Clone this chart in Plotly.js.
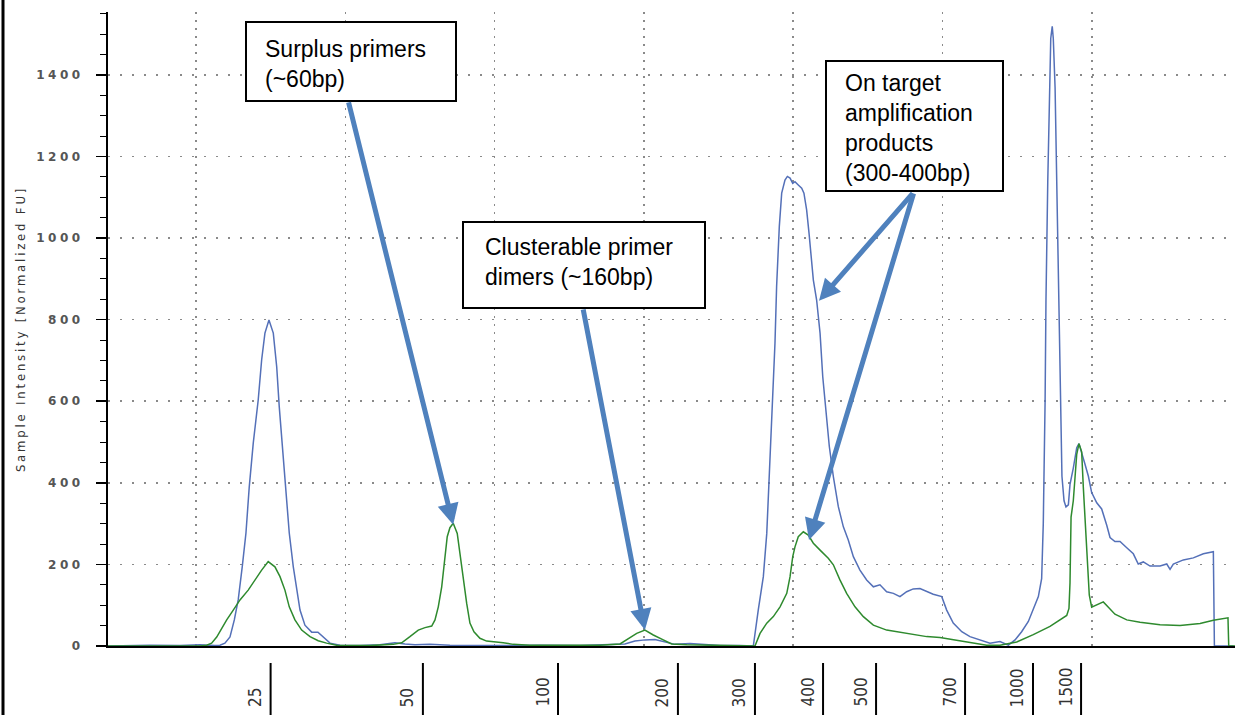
<!DOCTYPE html>
<html>
<head>
<meta charset="utf-8">
<script src="https://cdn.plot.ly/plotly-3.0.1.min.js"></script>
<style>
  html, body { margin: 0; padding: 0; background: #ffffff; }
  #chart { width: 1235px; height: 715px; }
  .ytick text { letter-spacing: 3.5px; }
  .ytitle { letter-spacing: 2.8px; }
</style>
</head>
<body>
<div id="chart"></div>
<script>
// ---- Data (migration time in s, intensity in FU) ----
const timeBlue = [34.11, 36.92, 38.93, 40.27, 41.27, 41.61, 41.94, 42.28, 42.57, 42.83,
  43.10, 43.35, 43.57, 43.84, 44.17, 44.40, 44.62, 44.89, 45.18, 45.41,
  45.58, 45.81, 46.03, 46.25, 46.52, 46.74, 46.97, 47.30, 47.75, 48.17,
  48.51, 48.98, 49.65, 50.98, 52.32, 53.33, 54.00, 54.67, 55.67, 57.01,
  60.36, 63.04, 65.72, 67.73, 68.73, 69.40, 70.07, 70.74, 71.41, 72.08,
  73.09, 74.09, 75.10, 76.44, 77.33, 77.66, 78.00, 78.23, 78.45, 78.67,
  78.78, 78.89, 79.07, 79.23, 79.45, 79.61, 79.79, 79.97, 80.12, 80.34,
  80.57, 80.72, 80.90, 81.06, 81.19, 81.35, 81.57, 81.80, 81.98, 82.20,
  82.42, 82.69, 83.02, 83.36, 83.69, 84.03, 84.47, 84.92, 85.37, 85.81,
  86.26, 86.71, 87.15, 87.60, 88.04, 88.49, 88.94, 89.38, 89.95, 90.28,
  90.72, 91.29, 91.84, 92.51, 93.18, 93.85, 94.41, 94.86, 95.30, 95.75,
  96.08, 96.42, 96.64, 96.75, 96.87, 96.93, 97.05, 97.15, 97.25, 97.35,
  97.42, 97.54, 97.65, 97.76, 97.82, 97.92, 98.00, 98.14, 98.27, 98.43,
  98.54, 98.76, 98.99, 99.14, 99.32, 99.54, 99.77, 99.99, 100.33, 100.66,
  101.00, 101.22, 101.55, 101.89, 102.34, 102.78, 103.11, 103.45, 103.90, 104.57,
  105.02, 105.24, 105.46, 106.13, 106.80, 107.47, 108.14, 108.21, 109.50];
const blueFU = [0, 2, 1, 3, 1, 2, 7, 22, 64, 113,
  194, 277, 390, 498, 603, 701, 767, 799, 767, 684,
  586, 481, 375, 277, 194, 137, 88, 51, 34, 34,
  22, 7, 2, 1, 3, 8, 5, 3, 4, 2,
  1, 2, 1, 3, 5, 12, 15, 16, 10, 4,
  6, 3, 1, 1, 0, 88, 170, 276, 456, 620,
  742, 881, 1028, 1110, 1142, 1151, 1147, 1134, 1138, 1130,
  1122, 1110, 1069, 1012, 963, 897, 848, 767, 660, 570,
  489, 415, 342, 292, 260, 219, 186, 162, 145, 150,
  133, 129, 121, 133, 140, 141, 133, 127, 121, 88,
  56, 35, 23, 15, 7, 11, 2, 15, 35, 60,
  88, 121, 165, 300, 597, 847, 1138, 1369, 1489, 1519,
  1489, 1369, 1138, 988, 797, 627, 416, 356, 341, 346,
  396, 436, 486, 496, 476, 446, 416, 376, 351, 336,
  296, 266, 256, 256, 241, 226, 201, 206, 196, 196,
  201, 188, 201, 211, 216, 226, 231, 0, 0];

const timeGreen = [34.11, 40.27, 40.72, 41.05, 41.39, 41.72, 42.06, 42.50, 42.95, 43.50,
  43.95, 44.40, 44.84, 45.29, 45.63, 45.96, 46.25, 46.63, 47.08, 47.64,
  48.19, 48.75, 49.42, 51.65, 53.22, 53.78, 54.33, 54.89, 55.34, 55.79,
  56.01, 56.23, 56.46, 56.68, 56.83, 57.01, 57.23, 57.50, 57.68, 57.90,
  58.13, 58.35, 58.62, 59.02, 59.47, 60.58, 61.25, 62.37, 67.06, 68.40,
  68.85, 69.52, 70.07, 70.63, 71.30, 71.86, 72.87, 76.44, 77.44, 77.78,
  78.23, 78.67, 79.12, 79.57, 79.79, 79.97, 80.12, 80.34, 80.68, 81.01,
  81.35, 81.80, 82.35, 82.69, 83.13, 83.58, 84.14, 84.70, 85.37, 86.26,
  87.60, 88.94, 89.83, 91.62, 92.96, 93.85, 94.97, 96.08, 97.20, 98.32,
  98.47, 98.54, 98.61, 98.76, 98.87, 98.99, 99.14, 99.32, 99.43, 99.59,
  99.70, 99.83, 99.99, 100.33, 100.77, 101.11, 101.55, 102.34, 103.23, 104.57,
  105.91, 107.25, 108.14, 109.12, 109.17, 109.59];
const greenFU = [0, 0, 2, 7, 22, 44, 64, 88, 113, 137,
  162, 186, 207, 194, 170, 137, 96, 64, 39, 23,
  13, 7, 2, 1, 4, 8, 23, 39, 45, 49,
  64, 96, 145, 211, 268, 290, 301, 276, 227, 162,
  105, 56, 35, 19, 12, 8, 4, 2, 2, 5,
  15, 31, 39, 27, 15, 5, 3, 2, 0, 31,
  56, 72, 96, 129, 170, 219, 243, 268, 280, 272,
  252, 235, 215, 199, 162, 129, 96, 72, 51, 39,
  31, 23, 21, 11, 2, 2, 10, 28, 48, 75,
  92, 155, 316, 356, 416, 470, 496, 476, 390, 280,
  200, 125, 95, 100, 108, 95, 78, 64, 58, 52,
  50, 55, 63, 69, 0, 0];

// Ladder (size standard) positions on the time axis and their labels in bp
const ladderTime = [45.0, 55.2, 64.25, 72.28, 77.44, 82.0, 85.55, 91.51, 96.06, 99.28];
const ladderBp = ['25', '50', '100', '200', '300', '400', '500', '700', '1000', '1500'];

// Call-out texts
const calloutText = [
  'Surplus primers<br>(~60bp)',
  'Clusterable primer<br>dimers (~160bp)',
  'On target<br>amplification<br>products<br>(300-400bp)'
];
// Arrow targets (time, FU) pointed to by the call-outs
const arrowTime = [57.23, 70.07, 81.73, 81.06];
const arrowFU = [297, 39, 846, 260];

// ---- Layout geometry ----
const W = 1235, H = 715, ML = 108, MR = 0, MT = 12, MB = 69;
const PW = W - ML - MR, PH = H - MT - MB;
const px = x => (x - ML) / PW;          // page pixel -> paper x
const py = y => (H - MB - y) / PH;      // page pixel -> paper y

const boxes = [
  {x0: 246, x1: 456, y0: 22, y1: 101, tx: 263, ty: 64},
  {x0: 463, x1: 705, y0: 222, y1: 308, tx: 483, ty: 262},
  {x0: 826, x1: 1003, y0: 61, y1: 191, tx: 843, ty: 128}
];
const arrowTails = [[-105, -424], [-62, -322], [95, -109], [105, -348]];

const shapes = [];
const annotations = [];

// left page border
shapes.push({type: 'line', xref: 'paper', yref: 'paper', x0: px(3), x1: px(3), y0: py(-2), y1: py(717),
  line: {color: '#000', width: 3}});

// ladder tick marks and labels
ladderTime.forEach((t, i) => {
  shapes.push({type: 'line', xref: 'x', yref: 'paper', x0: t, x1: t, y0: py(663), y1: py(717),
    line: {color: '#000', width: 2}});
  annotations.push({xref: 'x', yref: 'paper', x: t, y: py(709), xanchor: 'right', yanchor: 'bottom',
    xshift: -4, textangle: -90, showarrow: false, text: ladderBp[i],
    font: {family: 'Liberation Sans Narrow, DejaVu Sans Condensed, sans-serif', size: 17, color: '#333'}});
});

// call-out boxes
boxes.forEach((b, i) => {
  shapes.push({type: 'rect', xref: 'paper', yref: 'paper', layer: 'above',
    x0: px(b.x0), x1: px(b.x1), y0: py(b.y1), y1: py(b.y0),
    fillcolor: '#ffffff', line: {color: '#000', width: 2}});
  annotations.push({xref: 'paper', yref: 'paper', x: px(b.tx), y: py(b.ty), xanchor: 'left', yanchor: 'middle',
    align: 'left', showarrow: false, text: calloutText[i],
    font: {family: 'Liberation Sans, Arial, sans-serif', size: 23, color: '#000'}});
});

// arrows
arrowTime.forEach((t, i) => {
  annotations.push({xref: 'x', yref: 'y', x: t, y: arrowFU[i], ax: arrowTails[i][0], ay: arrowTails[i][1],
    text: '', showarrow: true, arrowhead: 2, arrowsize: 0.85, arrowwidth: 5, arrowcolor: '#4F81BD', standoff: 0});
});

const traces = [
  {x: timeBlue, y: blueFU, type: 'scatter', mode: 'lines', line: {color: '#5470b8', width: 1.5}, hoverinfo: 'skip', showlegend: false},
  {x: timeGreen, y: greenFU, type: 'scatter', mode: 'lines', line: {color: '#2e8a2e', width: 1.5}, hoverinfo: 'skip', showlegend: false}
];

const layout = {
  width: W, height: H,
  margin: {l: ML, r: MR, t: MT, b: MB, pad: 0},
  paper_bgcolor: '#ffffff', plot_bgcolor: '#ffffff',
  showlegend: false,
  xaxis: {
    range: [34.11, 109.59], tick0: 40, dtick: 10,
    showgrid: true, gridcolor: '#8a8a8a', gridwidth: 1.5, griddash: '2px,6px',
    showline: true, linecolor: '#000', linewidth: 2,
    ticks: '', showticklabels: false, zeroline: false, fixedrange: true
  },
  yaxis: {
    range: [0, 1554], tick0: 0, dtick: 200,
    showgrid: true, gridcolor: '#8a8a8a', gridwidth: 1.5, griddash: '2px,10px',
    showline: true, linecolor: '#000', linewidth: 2,
    ticks: 'outside', ticklen: 10, tickwidth: 1.5, tickcolor: '#000',
    ticklabelstandoff: 10,
    minor: {dtick: 50, ticks: 'outside', ticklen: 6, tickwidth: 1, tickcolor: '#000', showgrid: false},
    tickfont: {family: 'DejaVu Sans, sans-serif', size: 12, color: '#555', weight: 'bold'},
    zeroline: false, fixedrange: true,
    title: {text: 'Sample Intensity [Normalized FU]', standoff: 8,
      font: {family: 'DejaVu Sans Condensed, Liberation Sans Narrow, sans-serif', size: 13, color: '#333'}}
  },
  shapes: shapes,
  annotations: annotations
};

Plotly.newPlot('chart', traces, layout, {staticPlot: true, displayModeBar: false});
</script>
</body>
</html>
